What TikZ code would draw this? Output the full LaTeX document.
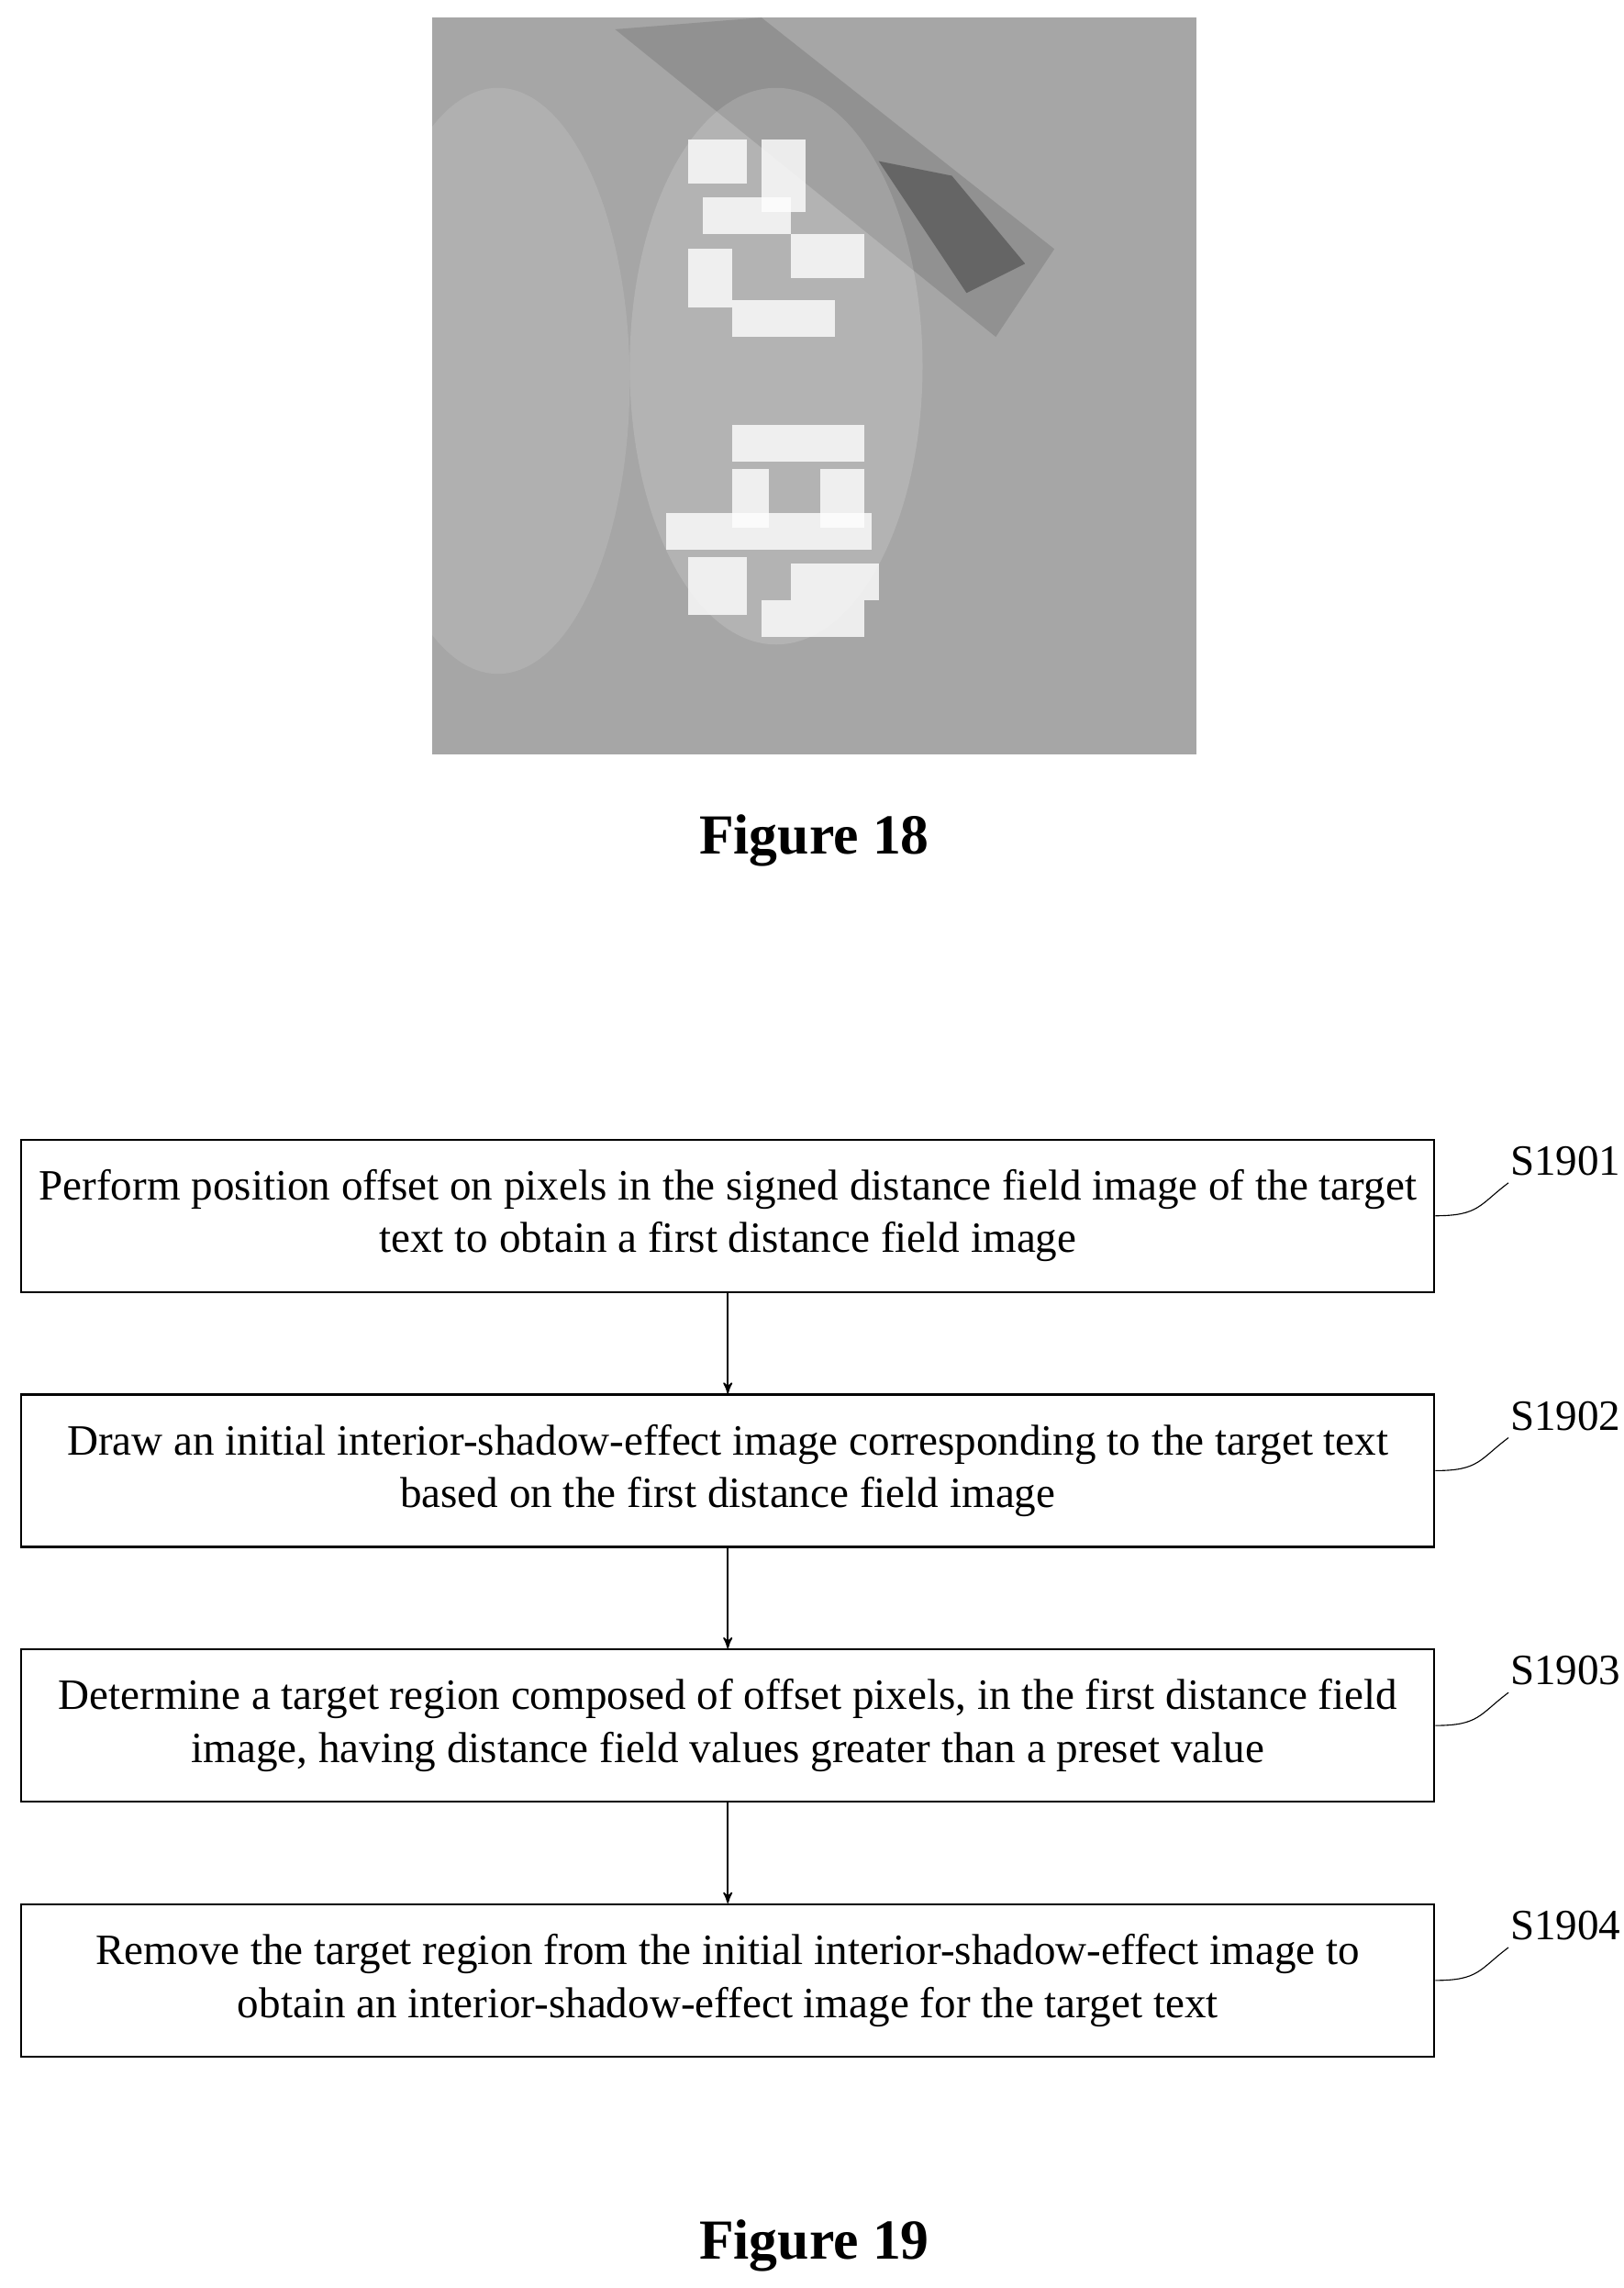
\documentclass[tikz,border=0pt]{standalone}
\usepackage{fontspec}
\setmainfont{Liberation Serif}
\usetikzlibrary{arrows,positioning}

\begin{document}
\begin{tikzpicture}[x=0.02cm,y=-0.02cm,>=stealth',thin]
\tikzstyle{flowbox}=[draw,thick,minimum width=19.3cm,minimum height=2.08cm,align=center,font=\fontsize{16.8}{20.5}\selectfont]
\tikzstyle{tag}=[font=\fontsize{16.8}{20}\selectfont,anchor=west]
\tikzstyle{caption}=[font=\fontsize{22}{26}\selectfont\bfseries]
\useasboundingbox (0,0) rectangle (1109,1562);

% figure 18: the blurred distance field picture
\fill[gray!70] (295,12) rectangle (817,515);
\fill[white,opacity=0.12] (340,260) ellipse (90 and 200);
\fill[black,opacity=0.12] (420,20) -- (520,12) -- (720,170) -- (680,230) -- cycle;
\fill[black,opacity=0.3] (600,110) -- (650,120) -- (700,180) -- (660,200) -- cycle;
\fill[white,opacity=0.15] (530,250) ellipse (100 and 190);
\foreach \x/\y/\w/\h in {470/95/40/30, 520/95/30/50, 480/135/60/25, 470/170/30/40, 540/160/50/30, 500/205/70/25,
                          500/290/90/25, 500/320/25/40, 560/320/30/40, 455/350/140/25, 470/380/40/40, 540/385/60/25, 520/410/70/25}
  \fill[white,opacity=0.8] (\x,\y) rectangle ++(\w,\h);
\node[caption] (fig18) at (556,574) {Figure 18};

% figure 19: flow chart
\node[flowbox] (s1) at (497,830) {Perform position offset on pixels in the signed distance field image of the target\\text to obtain a first distance field image};
\node[flowbox] (s2) at (497,1004) {Draw an initial interior-shadow-effect image corresponding to the target text\\based on the first distance field image};
\node[flowbox] (s3) at (497,1178) {Determine a target region composed of offset pixels, in the first distance field\\image, having distance field values greater than a preset value};
\node[flowbox] (s4) at (497,1352) {Remove the target region from the initial interior-shadow-effect image to\\obtain an interior-shadow-effect image for the target text};

\foreach \a/\b in {s1/s2,s2/s3,s3/s4}
  \draw[->,semithick] (\a) -- (\b);

\foreach \s/\n in {s1/S1901,s2/S1902,s3/S1903,s4/S1904}{
  \node[tag] (t\s) at ([xshift=0.9cm,yshift=0.75cm]\s.east) {\n};
  \draw (\s.east) .. controls ++(0.6cm,0) and ++(-0.4cm,-0.3cm) .. ([xshift=0.1cm,yshift=-0.3cm]t\s.west);
}
\node[caption] (fig19) at (556,1533) {Figure 19};
\end{tikzpicture}
\end{document}
